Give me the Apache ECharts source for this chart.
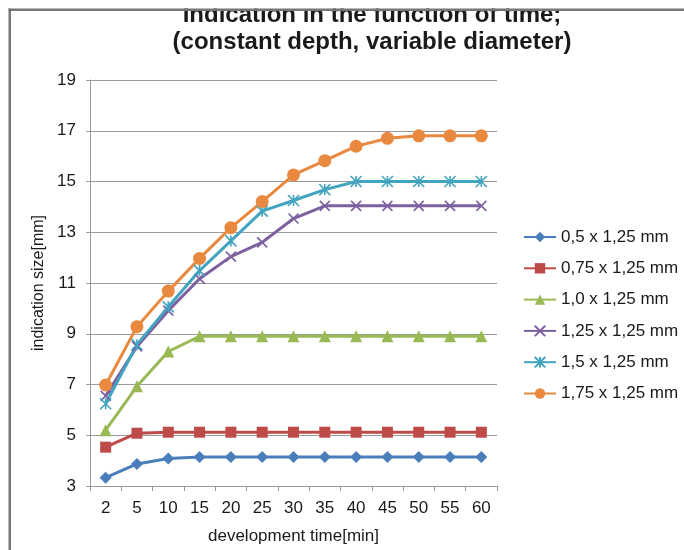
<!DOCTYPE html>
<html>
<head>
<meta charset="utf-8">
<script src="https://cdn.jsdelivr.net/npm/echarts@6/dist/echarts.min.js"></script>
<style>html,body{margin:0;padding:0;background:#fff}#c{width:684px;height:550px}</style>
</head>
<body>
<div id="c"></div>
<script>
// ---- data ----
const categories = ['2','5','10','15','20','25','30','35','40','45','50','55','60'];
const seriesNames = ['0,5 x 1,25 mm','0,75 x 1,25 mm','1,0 x 1,25 mm','1,25 x 1,25 mm','1,5 x 1,25 mm','1,75 x 1,25 mm'];
const d05  = [3.33, 3.87, 4.08, 4.14, 4.14, 4.14, 4.14, 4.14, 4.14, 4.14, 4.14, 4.14, 4.14];
const d075 = [4.53, 5.08, 5.12, 5.12, 5.12, 5.12, 5.12, 5.12, 5.12, 5.12, 5.12, 5.12, 5.12];
const d10  = [5.2, 6.93, 8.3, 8.9, 8.9, 8.9, 8.9, 8.9, 8.9, 8.9, 8.9, 8.9, 8.9];
const d125 = [6.55, 8.5, 9.91, 11.17, 12.04, 12.6, 13.54, 14.04, 14.04, 14.04, 14.04, 14.04, 14.04];
const d15  = [6.24, 8.57, 10.06, 11.49, 12.66, 13.83, 14.25, 14.68, 15.0, 15.0, 15.0, 15.0, 15.0];
const d175 = [6.98, 9.28, 10.68, 11.97, 13.18, 14.21, 15.26, 15.82, 16.39, 16.7, 16.8, 16.8, 16.8];
const yMin = 3, yMax = 19, yStep = 2;

const colors = ['#4A7EBB','#BE4B48','#98B954','#7D60A0','#43A4BF','#E8893F'];
const FONT = "'Liberation Sans', Arial, sans-serif";
const X_PATH = 'path://M0,0L10,10M10,0L0,10';
const STAR_PATH = 'path://M5,0L5,10M0,0L10,10M10,0L0,10';

function mk(i, data, symbol, size, stroke) {
  return {
    name: seriesNames[i], type: 'line', data: data,
    symbol: symbol, symbolSize: size, showSymbol: true,
    lineStyle: { color: colors[i], width: 3 },
    itemStyle: { color: colors[i], borderColor: colors[i], borderWidth: stroke ? 1.6 : 0 },
    emphasis: { disabled: true }
  };
}

const chart = echarts.init(document.getElementById('c'));
chart.setOption({
  animation: false,
  title: {
    text: 'Indication in the function of time;\n(constant depth, variable diameter)',
    left: 372, top: 2, padding: 0, textAlign: 'center',
    textStyle: { fontSize: 24, fontWeight: 'bold', lineHeight: 27, color: '#1a1a1a', fontFamily: FONT }
  },
  legend: {
    orient: 'vertical', left: 523, top: 228.5, padding: 0,
    itemWidth: 32, itemHeight: 13, itemGap: 14.3,
    textStyle: { fontSize: 17, lineHeight: 17, color: '#1a1a1a', fontFamily: FONT },
    data: seriesNames
  },
  grid: { left: 90, right: 187, top: 80, bottom: 58.3, containLabel: false },
  xAxis: {
    type: 'category', data: categories, boundaryGap: true,
    axisLine: { lineStyle: { color: '#9a9a9a', width: 1 } },
    axisTick: { show: true, length: 5, interval: 0, lineStyle: { color: '#9a9a9a' } },
    axisLabel: { fontSize: 17, margin: 14, interval: 0, color: '#1a1a1a', fontFamily: FONT },
    name: 'development time[min]', nameLocation: 'middle', nameGap: 42,
    nameTextStyle: { fontSize: 17, color: '#1a1a1a', fontFamily: FONT }
  },
  yAxis: {
    type: 'value', min: yMin, max: yMax, interval: yStep,
    axisLine: { show: true, lineStyle: { color: '#9a9a9a', width: 1 } },
    axisTick: { show: true, length: 4, lineStyle: { color: '#9a9a9a' } },
    splitLine: { show: true, lineStyle: { color: '#9a9a9a', width: 1 } },
    axisLabel: { fontSize: 17, margin: 14, color: '#1a1a1a', fontFamily: FONT },
    name: 'indication size[mm]', nameLocation: 'middle', nameGap: 36,
    nameTextStyle: { fontSize: 16, color: '#1a1a1a', fontFamily: FONT }
  },
  series: [
    mk(0, d05, 'diamond', 12, false),
    mk(1, d075, 'rect', 11, false),
    mk(2, d10, 'triangle', 12, false),
    mk(3, d125, X_PATH, 10, true),
    mk(4, d15, STAR_PATH, 11, true),
    mk(5, d175, 'circle', 13, false)
  ],
  graphic: [
    { type: 'rect', z: 100, shape: { x: 0, y: 0, width: 684, height: 8.5 }, style: { fill: '#ffffff' } },
    { type: 'rect', z: 101, shape: { x: 8.5, y: 8.5, width: 675.5, height: 2.5 }, style: { fill: '#767676' } },
    { type: 'rect', z: 101, shape: { x: 8.5, y: 8.5, width: 2.5, height: 541.5 }, style: { fill: '#767676' } }
  ]
});
</script>
</body>
</html>
